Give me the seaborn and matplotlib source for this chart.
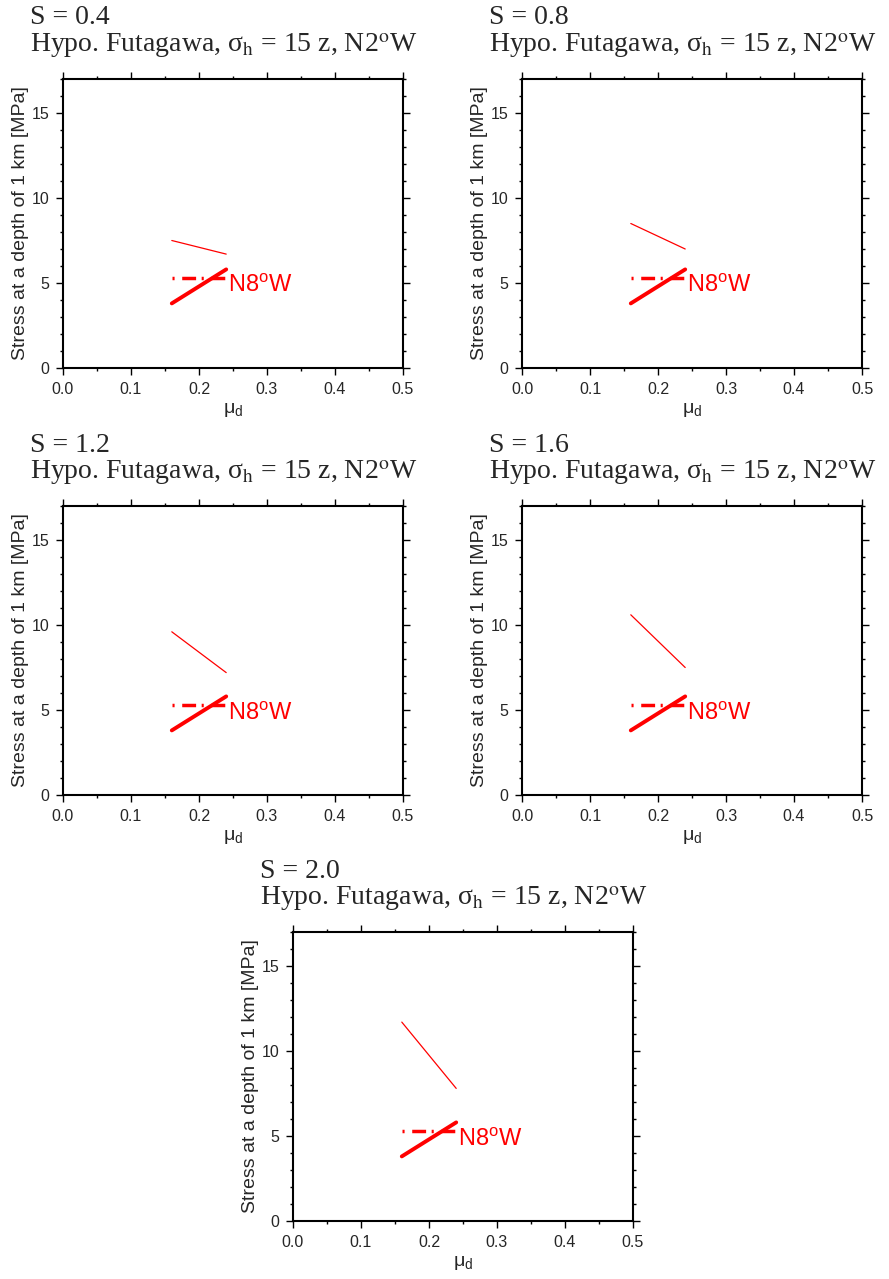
import matplotlib
matplotlib.use("Agg")
import matplotlib.pyplot as plt
import seaborn as sns
import numpy as np
import pandas as pd

sns.set_style("ticks")
plt.rcParams['font.family'] = ['Liberation Sans', 'DejaVu Sans']
plt.rcParams['mathtext.fontset'] = 'custom'
plt.rcParams['mathtext.rm'] = 'Liberation Sans'
plt.rcParams['mathtext.it'] = 'Liberation Sans'

S_values = ["0.4", "0.8", "1.2", "1.6", "2.0"]
mu_range = [0.16, 0.24]
thin_start = [7.5, 8.5, 9.6, 10.6, 11.7]
thin_end = [6.7, 7.0, 7.2, 7.5, 7.8]
thick_line = [3.8, 5.8]
dashed_line = [5.3, 5.3]
label_text = "N8$^{\\rm o}$W"
label_pos = (0.243, 4.8)

W, H = 889, 1279
fig = plt.figure(figsize=(W / 100, H / 100), dpi=100)

# axes pixel positions (left, top)
pos = [(63, 79), (522, 79), (63, 506), (522, 506), (293, 932)]
aw, ah = 340, 289

for i, (lx, ty) in enumerate(pos):
    ax = fig.add_axes([lx / W, 1 - (ty + ah) / H, aw / W, ah / H])
    df_thin = pd.DataFrame({"mu": mu_range, "stress": [thin_start[i], thin_end[i]]})
    df_thick = pd.DataFrame({"mu": mu_range, "stress": thick_line})
    df_dash = pd.DataFrame({"mu": mu_range, "stress": dashed_line})
    sns.lineplot(data=df_thin, x="mu", y="stress", ax=ax, color="red", linewidth=0.9)
    sns.lineplot(data=df_dash, x="mu", y="stress", ax=ax, color="red", linewidth=2.5,
                 linestyle=(0, (0.6, 2.2, 4.0, 1.6)))
    sns.lineplot(data=df_thick, x="mu", y="stress", ax=ax, color="red", linewidth=2.8)
    ax.text(label_pos[0], label_pos[1], label_text, color="red", fontsize=17,
            ha="left", va="center")
    ax.set_xlim(0, 0.5)
    ax.set_ylim(0, 17)
    ax.set_xticks(np.arange(0, 0.51, 0.1))
    ax.set_xticks(np.arange(0, 0.51, 0.05), minor=True)
    ax.set_xticklabels([f"{v:.1f}" for v in np.arange(0, 0.51, 0.1)])
    ax.set_yticks([0, 5, 10, 15])
    ax.set_yticks(np.arange(0, 17.1, 1), minor=True)
    ax.tick_params(which="both", direction="out", top=True, right=True,
                   labeltop=False, labelright=False, labelsize=11.5, width=1.0,
                   color="black", pad=5)
    ax.tick_params(which="major", length=5)
    ax.tick_params(which="minor", length=2.5)
    for sp in ax.spines.values():
        sp.set_visible(True)
        sp.set_linewidth(1.5)
        sp.set_color("black")
    ax.set_xlabel("$\\mu_{\\rm d}$", fontsize=14, labelpad=3)
    ax.set_ylabel("Stress at a depth of 1 km [MPa]", fontsize=14, labelpad=2)

    tx = (lx - 33) / W
    fig.text(tx, 1 - (ty - 61) / H, f"S = {S_values[i]}", fontsize=20,
             family=["Liberation Serif", "DejaVu Serif"], ha="left", va="center")
    fig.text(tx, 1 - (ty - 33) / H,
             "Hypo. Futagawa, σ$_{\\rm h}$ = 15 z, N2$^{\\rm o}$W",
             fontsize=20, family=["Liberation Serif", "DejaVu Serif"],
             ha="left", va="center", math_fontfamily="stix")

fig.savefig("out.png", dpi=100)
